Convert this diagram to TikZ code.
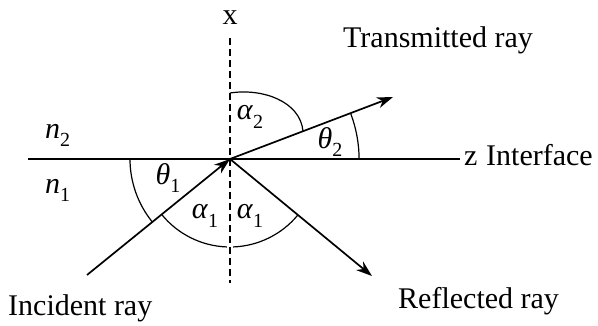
\documentclass[tikz,border=0pt]{standalone}
\usepackage{fontspec}
\setmainfont{LiberationSerif}[Extension=.ttf,UprightFont=*-Regular,ItalicFont=*-Italic,BoldFont=*-Bold,BoldItalicFont=*-BoldItalic]
\usetikzlibrary{arrows.meta}
\newcommand{\lsub}[1]{\raisebox{-0.28em}{\fontsize{20}{21}\selectfont #1}}
\begin{document}
\begin{tikzpicture}[x=1pt,y=1pt,
  lbl/.style={inner sep=0pt,font=\fontsize{30}{32}\selectfont},
  ray/.style={line width=1.7pt,-{Stealth[length=16pt,width=11pt,inset=5pt]}},
  angarc/.style={line width=1.2pt},
  axis/.style={line width=1.7pt}]
\useasboundingbox (0,0) rectangle (598,325);
\coordinate (O) at (230,166);
\coordinate (L) at (28,166);
\coordinate (R) at (460,166);
\coordinate (T) at (230,287);
\coordinate (B) at (230,42);
\coordinate (S) at (87,50);
\coordinate (F) at (372,49);
\coordinate (E) at (393,228);
% axes
\draw[axis] (L) -- (R);
\draw[line width=1.5pt,dash pattern=on 7pt off 4pt] (T) -- (B);
% rays
\draw[ray] (S) -- (O);
\draw[ray] (O) -- (F);
\draw[ray] (O) -- (E);
% angle arcs
\draw[angarc] (O) ++(180:100) arc[start angle=180,end angle=219,radius=100];
\draw[angarc] (O) ++(219:88) arc[start angle=219,end angle=268,radius=88];
\draw[angarc] (O) ++(272:88) arc[start angle=272,end angle=320.5,radius=88];
\draw[angarc] (230,232) .. controls (262,237) and (300,224) .. (303,194);
\draw[angarc] (O) ++(20.8:129) arc[start angle=20.8,end angle=0,radius=131];
% labels
\node[lbl,anchor=base] (xl) at (230,301) {x};
\node[lbl,anchor=base west] (tr) at (343,278) {Transmitted ray};
\node[lbl,anchor=base west] (zl) at (464,160) {z};
\node[lbl,anchor=base west] (il) at (486,160) {Interface};
\node[lbl,anchor=base west] (ir) at (8,10) {Incident ray};
\node[lbl,anchor=base west] (rr) at (398,17) {Reflected ray};
\node[lbl,anchor=base west] (n2) at (45,187) {\textit{n}\lsub{2}};
\node[lbl,anchor=base west] (n1) at (45,132) {\textit{n}\lsub{1}};
\node[lbl] (a2) at (250,208) {\textit{α}\lsub{2}};
\node[lbl] (t1) at (168,147) {\textit{θ}\lsub{1}};
\node[lbl] (a1l) at (205,109) {\textit{α}\lsub{1}};
\node[lbl] (a1r) at (250,109) {\textit{α}\lsub{1}};
\node[lbl] (t2) at (330,183) {\textit{θ}\lsub{2}};
\end{tikzpicture}
\end{document}
